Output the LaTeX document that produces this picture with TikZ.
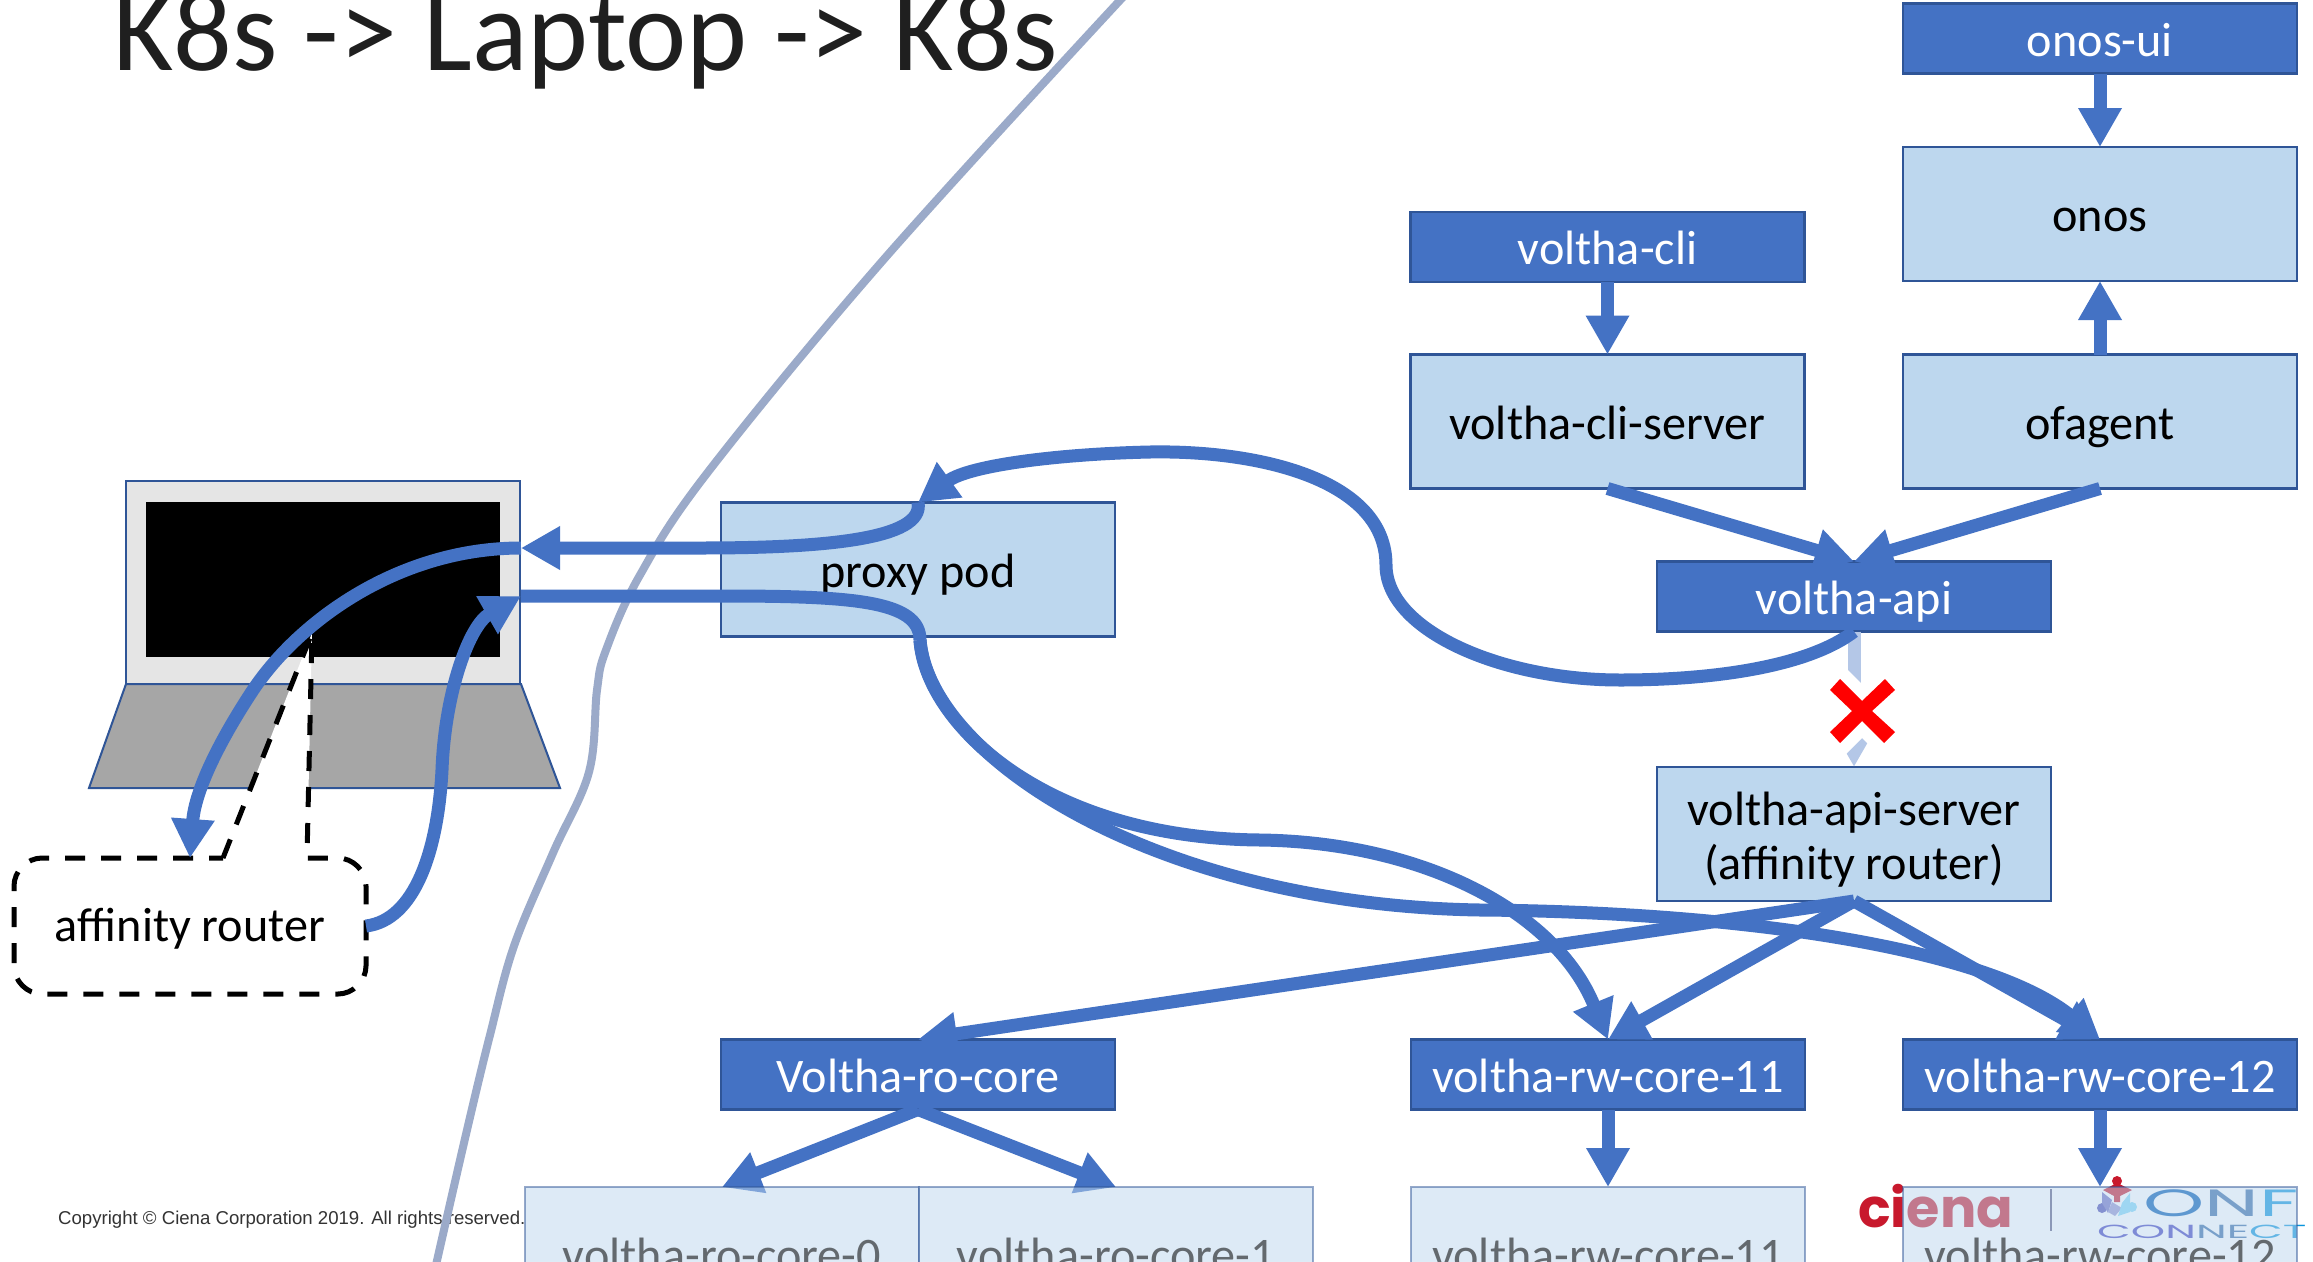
\documentclass[tikz,border=0pt]{standalone}
\usepackage{graphicx}
\usepackage{fontspec}
\setmainfont{Carlito}
\newfontfamily\arialfont{Liberation Sans}
\newfontfamily\logofont{Poppins}
\usetikzlibrary{arrows.meta}
\definecolor{bluedark}{HTML}{4472C4}
\definecolor{edgeblue}{HTML}{2F5597}
\definecolor{boxlight}{HTML}{BDD7EE}
\definecolor{fadedarrow}{HTML}{B4C7E7}
\definecolor{curvegrey}{HTML}{9BAAC9}
\definecolor{cienared}{HTML}{C8192D}
\tikzset{
  x=1pt,y=-1pt,
  basebox/.style={rectangle,inner sep=0pt,outer sep=0pt,minimum width=394pt,line width=2.2pt,draw=edgeblue,font=\fontsize{48.2}{54}\selectfont,align=center,text height=45pt,text depth=10pt},
  darkbox/.style={basebox,fill=bluedark,text=white,minimum height=70pt},
  lightbox/.style={basebox,fill=boxlight,text=black,minimum height=134pt},
  fadebox/.style={basebox,fill=boxlight,minimum height=134pt,fill opacity=.5,draw opacity=.5,text opacity=.55},
  flow/.style={draw=bluedark,line width=13pt,-{Triangle[length=39pt,width=41pt]}},
  curveflow/.style={draw=bluedark,line width=13pt,line cap=butt},
  curvehead/.style={curveflow,-{Triangle[length=39pt,width=41pt]}},
  dashline/.style={draw=black,line width=5pt,dash pattern=on 20pt off 16pt},
}
\begin{document}
\begin{tikzpicture}
\clip (0,0) rectangle (2313,1261);
\fill[white] (0,0) rectangle (2313,1261);

% title and footer
\node[anchor=base west,inner sep=0pt,font=\fontsize{116}{116}\selectfont,text=black!88] (title) at (113,70) {K8s -> Laptop -> K8s};
\node[anchor=west,inner sep=0pt,font=\arialfont\fontsize{18.6}{22}\selectfont,text=black!80] (copy) at (58,1220) {Copyright © Ciena Corporation 2019. All rights reserved.};

% boundary curve
\draw[curvegrey,line width=8pt] plot[smooth,tension=.6] coordinates {(1124,-4) (885,258) (708,472) (640,575) (606,650) (597,690) (589,772) (553,853) (514,946) (490,1035) (467,1130) (436,1265)};

% laptop
\draw[edgeblue,line width=2pt,fill=black!10] (126,481) rectangle (520,684);
\fill[black] (146,502) rectangle (500,657);
\draw[edgeblue,line width=2pt,fill=black!35] (126,684) -- (521,684) -- (560,788) -- (89,788) -- cycle;

% callout
\fill[white] (223,858) -- (312,633) -- (307,858) -- cycle;
\draw[dashline] (223,858) -- (312,633) -- (307,858) -- (338,858) .. controls (353,858) and (366,871) .. (366,886)
  -- (366,966) .. controls (366,981) and (353,994) .. (338,994) -- (42,994)
  .. controls (27,994) and (14,981) .. (14,966) -- (14,886) .. controls (14,871) and (27,858) .. (42,858) -- (223,858);
\node[inner sep=0pt,outer sep=0pt,minimum width=352pt,minimum height=136pt,font=\fontsize{48.2}{54}\selectfont,text height=40pt,text depth=10pt] (router) at (190,926) {affinity router};

% upper boxes
\node[darkbox] (onosui) at (2100,38.5) {onos-ui};
\node[lightbox] (onos) at (2100,214) {onos};
\node[darkbox] (cli) at (1607.5,247) {voltha-cli};
\node[lightbox] (cliserver) at (1607.5,421.5) {voltha-cli-server};
\node[lightbox] (ofagent) at (2100,421.5) {ofagent};
\node[darkbox] (api) at (1854,596.5) {voltha-api};
\node[lightbox,text height=100pt,text depth=10pt] (apiserver) at (1854,834) {voltha-api-server\\(affinity router)};
\node[lightbox] (proxy) at (918,569.5) {proxy pod};
\node[darkbox] (rocore) at (918,1074.5) {Voltha-ro-core};
\node[darkbox] (rw11) at (1608,1074.5) {voltha-rw-core-11};
\node[darkbox] (rw12) at (2100,1074.5) {voltha-rw-core-12};

% straight flows
\draw[flow] (onosui) -- (onos);
\draw[flow] (cli) -- (cliserver);
\draw[flow] (ofagent) -- (onos);
\draw[flow] (cliserver.south) -- (api.north);
\draw[flow] (ofagent.south) -- (api.north);
\draw[flow] (apiserver.south) -- (rocore.north);
\draw[flow] (apiserver.south) -- (rw11.north);
\draw[flow] (apiserver.south) -- (rw12.north);

% broken flow
\draw[fadedarrow,line width=13pt,-{Triangle[length=39pt,width=41pt]}] (api) -- (apiserver);
\coordinate (xmark) at (1862,711);
\path[draw=white,line width=24pt,line join=miter,fill=white,shift={(xmark)}] (-22,-32) -- (0,-10) -- (23,-32) -- (33,-21) -- (10,0) -- (33,21) -- (22,32) -- (0,10) -- (-22,32) -- (-32,21) -- (-10,0) -- (-32,-21) -- cycle;
\fill[red,shift={(xmark)}] (-22,-32) -- (0,-10) -- (23,-32) -- (33,-21) -- (10,0) -- (33,21) -- (22,32) -- (0,10) -- (-22,32) -- (-32,21) -- (-10,0) -- (-32,-21) -- cycle;

% lower arrows
\draw[flow] (rocore.south) -- (722,1187);
\draw[flow] (rocore.south) -- (1116,1187);
\draw[flow] (rw11.south) -- (1608,1187);
\draw[flow] (rw12.south) -- (2100,1187);

% curved flows
\coordinate (laptopin) at (521,548);
\coordinate (laptopout) at (521,596);
\coordinate (fork) at (920,640);
\draw[curvehead] (api.south) .. controls (1810,665) and (1720,680) .. (1620,680)
  .. controls (1500,680) and (1386,630) .. (1386,565)
  .. controls (1386,480) and (1260,450) .. (1150,452)
  .. controls (1060,454) and (970,465) .. (proxy.north);
\draw[curvehead] (proxy.north) .. controls (925,540) and (820,548) .. (700,548) -- (laptopin);
\draw[curvehead] (laptopin) .. controls (400,548) and (300,620) .. (253,690) .. controls (220,740) and (195,790) .. (190,858);
\draw[curvehead] (router.east) .. controls (415,920) and (438,850) .. (442,770) .. controls (445,690) and (470,625) .. (laptopout);
\draw[curveflow] (laptopout) -- (720,596) .. controls (850,596) and (920,600) .. (fork);
\draw[curvehead] (fork) .. controls (925,720) and (1040,838) .. (1260,840) .. controls (1420,842) and (1555,910) .. (rw11.north);
\draw[curvehead] (fork) .. controls (930,760) and (1160,905) .. (1480,910) .. controls (1750,912) and (1990,950) .. (rw12.north);

% logos (under the faded boxes)
\node[anchor=base west,inner sep=0pt,font=\logofont\bfseries\fontsize{54}{54}\selectfont,text=cienared] (ciena) at (1858,1227) {ciena};
\draw[black!50!blue!30!gray,line width=1.6pt] (2051,1189) -- (2051,1231);
\fill[cienared] (2117,1181) circle (5);
\fill[cienared] (2103,1190) -- (2117,1183) -- (2132,1190) -- (2120,1196) -- (2120,1202) -- (2114,1202) -- (2114,1196) -- cycle;
\fill[blue!40!gray] (2102,1208) circle (5);
\fill[cyan!50!white] (2132,1207) circle (5);
\fill[blue!40!gray!80!white] (2102,1192) -- (2112,1200) -- (2108,1213) -- (2102,1203) -- cycle;
\fill[blue!40!gray!60!white] (2112,1202) -- (2122,1208) -- (2115,1216) -- (2108,1212) -- cycle;
\fill[cyan!50!white] (2130,1193) -- (2122,1203) -- (2118,1216) -- (2130,1212) -- cycle;
\node[anchor=base west,inner sep=0pt,font=\logofont\fontsize{38}{38}\selectfont] (onf) at (2143,1216) {\scalebox{2.05}[1]{\textcolor{blue!50!cyan!70!black}{O}\textcolor{cyan!50!blue!80!black}{N}\textcolor{cyan!80!blue}{F}}};
\node[anchor=base west,inner sep=0pt,font=\logofont\fontsize{19}{19}\selectfont] (connect) at (2097,1238) {\scalebox{2.3}[1]{\textcolor{blue!50!gray}{CON}\textcolor{cyan!50!blue!80!black}{NE}\textcolor{cyan!80!blue}{CT}}};

% faded lower boxes
\node[fadebox] (ro0) at (722,1254) {voltha-ro-core-0};
\node[fadebox] (ro1) at (1116,1254) {voltha-ro-core-1};
\node[fadebox] (lrw11) at (1608,1254) {voltha-rw-core-11};
\node[fadebox] (lrw12) at (2100,1254) {voltha-rw-core-12};
\end{tikzpicture}
\end{document}
